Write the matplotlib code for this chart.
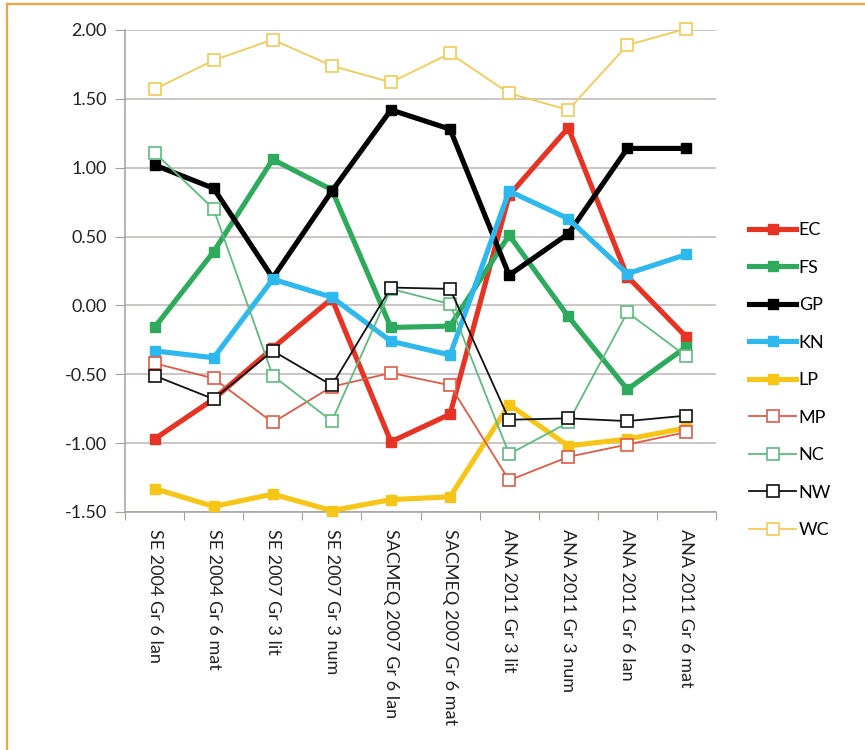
import matplotlib
matplotlib.use("Agg")
import matplotlib.pyplot as plt
from matplotlib.lines import Line2D
import numpy as np

categories = ["SE 2004 Gr 6 lan", "SE 2004 Gr 6 mat", "SE 2007 Gr 3 lit", "SE 2007 Gr 3 num",
              "SACMEQ 2007 Gr 6 lan", "SACMEQ 2007 Gr 6 mat", "ANA 2011 Gr 3 lit",
              "ANA 2011 Gr 3 num", "ANA 2011 Gr 6 lan", "ANA 2011 Gr 6 mat"]

EC = [-0.97, -0.68, -0.31, 0.05, -0.99, -0.79, 0.80, 1.29, 0.21, -0.23]
FS = [-0.16, 0.39, 1.06, 0.84, -0.16, -0.15, 0.51, -0.08, -0.61, -0.30]
GP = [1.02, 0.85, 0.20, 0.83, 1.42, 1.28, 0.22, 0.52, 1.14, 1.14]
KN = [-0.33, -0.38, 0.19, 0.06, -0.26, -0.36, 0.83, 0.63, 0.23, 0.37]
LP = [-1.33, -1.46, -1.37, -1.49, -1.41, -1.39, -0.72, -1.02, -0.97, -0.89]
MP = [-0.42, -0.53, -0.85, -0.59, -0.49, -0.58, -1.27, -1.10, -1.01, -0.92]
NC = [1.11, 0.70, -0.51, -0.84, 0.12, 0.01, -1.08, -0.85, -0.05, -0.37]
NW = [-0.51, -0.68, -0.33, -0.58, 0.13, 0.12, -0.83, -0.82, -0.84, -0.80]
WC = [1.57, 1.78, 1.93, 1.74, 1.62, 1.83, 1.54, 1.42, 1.89, 2.01]

yticks = [2.0, 1.5, 1.0, 0.5, 0.0, -0.5, -1.0, -1.5]

series = [
    ("EC", EC, "#E63323", True),
    ("FS", FS, "#2EAA5C", True),
    ("GP", GP, "#000000", True),
    ("KN", KN, "#2DB8EE", True),
    ("LP", LP, "#F6C518", True),
    ("MP", MP, "#E05A45", False),
    ("NC", NC, "#5DBB7E", False),
    ("NW", NW, "#111111", False),
    ("WC", WC, "#F1CB55", False),
]

plt.rcParams['font.family'] = ['Lato', 'DejaVu Sans']

fig = plt.figure(figsize=(8.65, 7.5), dpi=100)
ax = fig.add_axes([125/865, 1-512/750, (716-125)/865, (512-30)/750])

x = np.arange(len(categories))
handles = []
for name, vals, col, filled in series:
    if filled:
        ln, = ax.plot(x, vals, color=col, lw=3.7, marker='s', ms=7.5,
                      mfc=col, mec=col, label=name, clip_on=False, zorder=3)
    else:
        ln, = ax.plot(x, vals, color=col, lw=1.3, marker='s', ms=8.5,
                      mfc='white', mec=col, mew=1.2, label=name, clip_on=False, zorder=4)
    handles.append(ln)

ax.set_xlim(-0.5, len(categories) - 0.5)
ax.set_ylim(-1.5, 2.0)
ax.set_yticks(yticks)
ax.set_yticklabels([f"{v:.2f}" for v in yticks], fontsize=13, color='#222222')
ax.yaxis.grid(True, color='#BDB5B5', lw=1.1)
ax.set_axisbelow(True)

ax.set_xticks(np.arange(len(categories) + 1) - 0.5, minor=False)
ax.set_xticklabels([])
ax.set_xticks(x, minor=True)
ax.set_xticklabels(categories, minor=True, rotation=-90, fontsize=13, color='#222222',
                   va='top', ha='center')
ax.tick_params(axis='x', which='minor', length=0, pad=12)
ax.tick_params(axis='x', which='major', length=6, color='#A89E9E', direction='out')
ax.tick_params(axis='y', length=7, color='#A89E9E', pad=6)

for s in ['top', 'right']:
    ax.spines[s].set_visible(False)
for s in ['left', 'bottom']:
    ax.spines[s].set_color('#A89E9E')
    ax.spines[s].set_linewidth(1.1)

leg = fig.legend(handles=handles, loc='upper left', bbox_to_anchor=(742/865, 1-215/750),
                 frameon=False, fontsize=13, handlelength=2.6, handletextpad=0.15,
                 labelspacing=1.19, borderaxespad=0)

# orange frame at top and left
fig.add_artist(Line2D([7/865, 1.0], [1-4/750, 1-4/750], transform=fig.transFigure,
                      color='#F5A23C', lw=1.6))
fig.add_artist(Line2D([7/865, 7/865], [0, 1-4/750], transform=fig.transFigure,
                      color='#F5A23C', lw=1.6))

fig.savefig("out.png", dpi=100, facecolor='white')
